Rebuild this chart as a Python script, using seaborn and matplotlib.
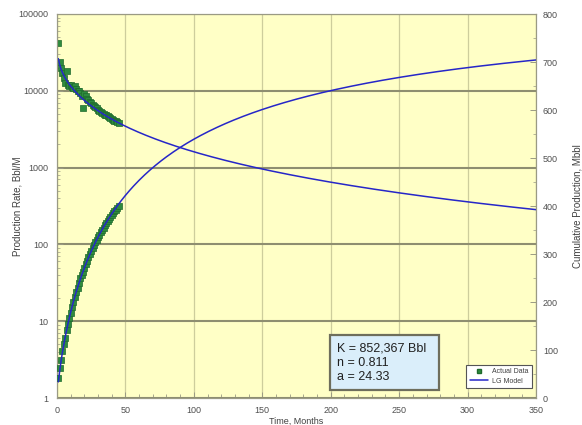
import numpy as np
import pandas as pd
import matplotlib
matplotlib.use("Agg")
import matplotlib.pyplot as plt
import seaborn as sns
from matplotlib.lines import Line2D
from matplotlib.patches import Rectangle
from matplotlib.ticker import FixedLocator, MultipleLocator, LogLocator, NullFormatter

# Monthly production history
months = list(range(1, 46))
rate_bbl_month = [42000, 23500, 20000, 17000, 14500, 12500, 18000, 12000, 11500, 11800,
                  11200, 10800, 11500, 10500, 10000, 9800, 9300, 8500, 6000, 9000,
                  8600, 7800, 7500, 7200, 6900, 6600, 6300, 6100, 5900, 5700,
                  5500, 5300, 5200, 5000, 4900, 4800, 4650, 4500, 4400, 4300,
                  4200, 4100, 4000, 3950, 3850]
cum_mbbl = [42, 62, 80, 97, 112, 126, 142, 154, 166, 178,
            189, 200, 211, 221, 230, 240, 249, 256, 263, 271,
            279, 286, 293, 300, 306, 312, 318, 324, 330, 335,
            340, 345, 350, 355, 360, 364, 368, 373, 377, 381,
            385, 389, 392, 396, 400]

# Logistic growth model parameters
K_bbl = 852367
n_exp = 0.811
a_const = 24.33
model_months = np.arange(1, 351)

x_ticks = [0, 50, 100, 150, 200, 250, 300, 350]
rate_ticks = [1, 10, 100, 1000, 10000, 100000]
rate_tick_labels = ["1", "10", "100", "1000", "10000", "100000"]
cum_ticks = [0, 100, 200, 300, 400, 500, 600, 700, 800]

# Logistic growth model: rate and cumulative
tn = model_months ** n_exp
model_rate = K_bbl * n_exp * a_const * model_months ** (n_exp - 1) / (a_const + tn) ** 2
model_cum = K_bbl * tn / (a_const + tn) / 1000.0

hist = pd.DataFrame({"month": months, "rate": rate_bbl_month, "cum": cum_mbbl})
model = pd.DataFrame({"month": model_months, "rate": model_rate, "cum": model_cum})

sns.set_style("ticks")
plt.rcParams["font.family"] = ["Liberation Sans", "DejaVu Sans"]

W, H = 582, 425
fig = plt.figure(figsize=(W / 100, H / 100), dpi=100)
fig.patch.set_facecolor("white")
L, R, T, B = 57, 536, 14, 398
ax = fig.add_axes([L / W, 1 - B / H, (R - L) / W, (B - T) / H])
ax2 = ax.twinx()

green = "#2E8B3E"
green_edge = "#1E6A2C"
blue = "#2626C8"
tick_col = "#505050"
spine_col = "#9A9A84"

ax.set_facecolor("#FFFFC6")
ax2.patch.set_visible(False)

sns.scatterplot(data=hist, x="month", y="rate", ax=ax, marker="s", s=17,
                color=green, edgecolor=green_edge, linewidth=0.5, zorder=3, legend=False)
sns.lineplot(data=model, x="month", y="rate", ax=ax, color=blue, lw=1.1, zorder=4, legend=False)

sns.scatterplot(data=hist, x="month", y="cum", ax=ax2, marker="s", s=17,
                color=green, edgecolor=green_edge, linewidth=0.5, zorder=3, legend=False)
sns.lineplot(data=model, x="month", y="cum", ax=ax2, color=blue, lw=1.1, zorder=4, legend=False)

# Axes scales and limits
ax.set_yscale("log")
ax.set_ylim(1, 100000)
ax.set_xlim(0, 350)
ax2.set_ylim(0, 800)

ax.set_xticks(x_ticks)
ax.set_xticklabels([str(v) for v in x_ticks])
ax.xaxis.set_minor_locator(MultipleLocator(10))
ax.set_yticks(rate_ticks)
ax.set_yticklabels(rate_tick_labels)
ax.yaxis.set_minor_locator(LogLocator(base=10, subs=np.arange(2, 10)))
ax.yaxis.set_minor_formatter(NullFormatter())
ax2.set_yticks(cum_ticks)
ax2.set_yticklabels([str(v) for v in cum_ticks])
ax2.yaxis.set_minor_locator(MultipleLocator(50))

ax.tick_params(axis="x", which="major", direction="in", length=4, width=0.7,
               color=spine_col, labelsize=6.5, labelcolor=tick_col, pad=6)
ax.tick_params(axis="x", which="minor", direction="in", length=3, width=0.6, color=spine_col)
ax.tick_params(axis="y", which="major", direction="in", length=4, width=0.7,
               color=spine_col, labelsize=6.5, labelcolor=tick_col, pad=6)
ax.tick_params(axis="y", which="minor", direction="in", length=2.5, width=0.5, color=spine_col)
ax2.tick_params(axis="y", which="major", direction="in", length=4, width=0.7,
                color=spine_col, labelsize=6.5, labelcolor=tick_col, pad=5)
ax2.tick_params(axis="y", which="minor", direction="in", length=2.5, width=0.5, color=spine_col)

# Grid: dark horizontal decades, light vertical month lines
ax.grid(False)
ax2.grid(False)
ax.yaxis.grid(True, which="major", color="#8E8E70", lw=1.5, zorder=0)
ax.xaxis.grid(True, which="major", color="#CDCD9C", lw=0.9, zorder=0)
ax.set_axisbelow(True)

for a in (ax, ax2):
    for s in a.spines.values():
        s.set_color(spine_col)
        s.set_linewidth(0.8)

ax.set_xlabel("")
ax.set_ylabel("")
ax2.set_ylabel("")
fig.text(18 / W, 1 - 206 / H, "Production Rate, Bbl/M", rotation=90, ha="center", va="center",
         fontsize=7, color="#404040")
fig.text(578 / W, 1 - 206 / H, "Cumulative Production, Mbbl", rotation=90, ha="center", va="center",
         fontsize=7, color="#404040")
fig.text(296 / W, 1 - 421 / H, "Time, Months", ha="center", va="center",
         fontsize=6.5, color="#404040")

# Parameter box
def ax_x(px):
    return (px - L) / (R - L)

def ax_y(py):
    return (B - py) / (B - T)

ax2.add_patch(Rectangle((ax_x(330), ax_y(390)), ax_x(439) - ax_x(330), ax_y(335) - ax_y(390),
                        transform=ax2.transAxes, facecolor="#DAEEFA", edgecolor="#6E6E5C",
                        lw=1.6, zorder=6))
ax2.text(ax_x(337), ax_y(362.5), f"K = {K_bbl:,} Bbl\nn = {n_exp}\na = {a_const}",
         transform=ax2.transAxes, ha="left", va="center", fontsize=9, color="#202020",
         linespacing=1.25, zorder=7)

# Legend
handles = [Line2D([], [], marker="s", linestyle="none", markersize=3.5, color=green,
                  markeredgecolor=green_edge),
           Line2D([], [], color=blue, lw=1.1)]
leg = ax2.legend(handles, ["Actual Data", "LG Model"], loc="lower right",
                 bbox_to_anchor=(ax_x(532), ax_y(388)), fontsize=5, frameon=True,
                 fancybox=False, framealpha=1, edgecolor="#555555", borderpad=0.5,
                 handlelength=2.6, handletextpad=0.6, labelspacing=0.35, borderaxespad=0)
leg.get_frame().set_linewidth(0.8)
leg.set_zorder(8)
for t in leg.get_texts():
    t.set_color("#404040")

fig.savefig("out.png", dpi=100)
